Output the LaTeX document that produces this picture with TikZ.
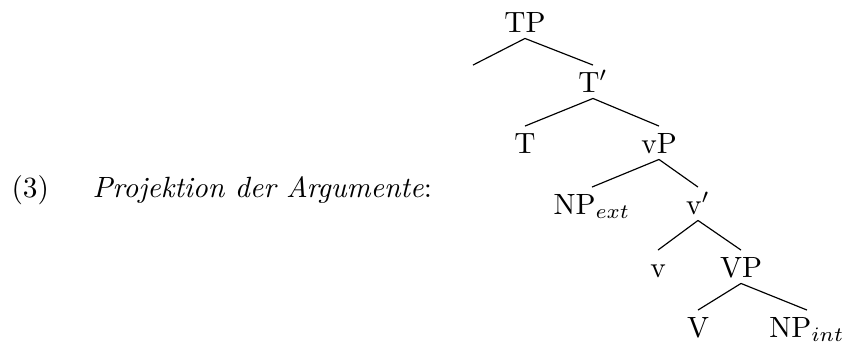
\documentclass[tikz,border=0pt]{standalone}
\begin{document}
\begin{tikzpicture}[x=0.3413pt,y=-0.3413pt,
  cat/.style={anchor=base,inner sep=2pt,text height=7pt,text depth=0pt},
  lbl/.style={anchor=base west,inner sep=0pt},
  branch/.style={line width=0.4pt}]
\useasboundingbox (0,0) rectangle (844,343);
\node[lbl] (ex) at (11,197) {(3)};
\node[lbl] (title) at (92,197) {\textit{Projektion der Argumente}:};
\node[cat] (TP) at (525,32) {TP};
\node[cat] (E) at (473,92) {};
\node[cat] (Tb) at (593,92) {T$'$};
\node[cat] (T) at (525,153) {T};
\node[cat] (vP) at (659,153) {vP};
\node[cat] (NPe) at (592,214) {NP$_{ext}$};
\node[cat] (vb) at (698,214) {v$'$};
\node[cat] (v) at (658,277) {v};
\node[cat] (VP) at (741,277) {VP};
\node[cat] (V) at (698,337) {V};
\node[cat] (NPi) at (807,337) {NP$_{int}$};
\draw[branch] (TP.south) -- (E.north);
\draw[branch] (TP.south) -- (Tb.north);
\draw[branch] (Tb.south) -- (T.north);
\draw[branch] (Tb.south) -- (vP.north);
\draw[branch] (vP.south) -- (NPe.north);
\draw[branch] (vP.south) -- (vb.north);
\draw[branch] (vb.south) -- (v.north);
\draw[branch] (vb.south) -- (VP.north);
\draw[branch] (VP.south) -- (V.north);
\draw[branch] (VP.south) -- (NPi.north);
\end{tikzpicture}
\end{document}
